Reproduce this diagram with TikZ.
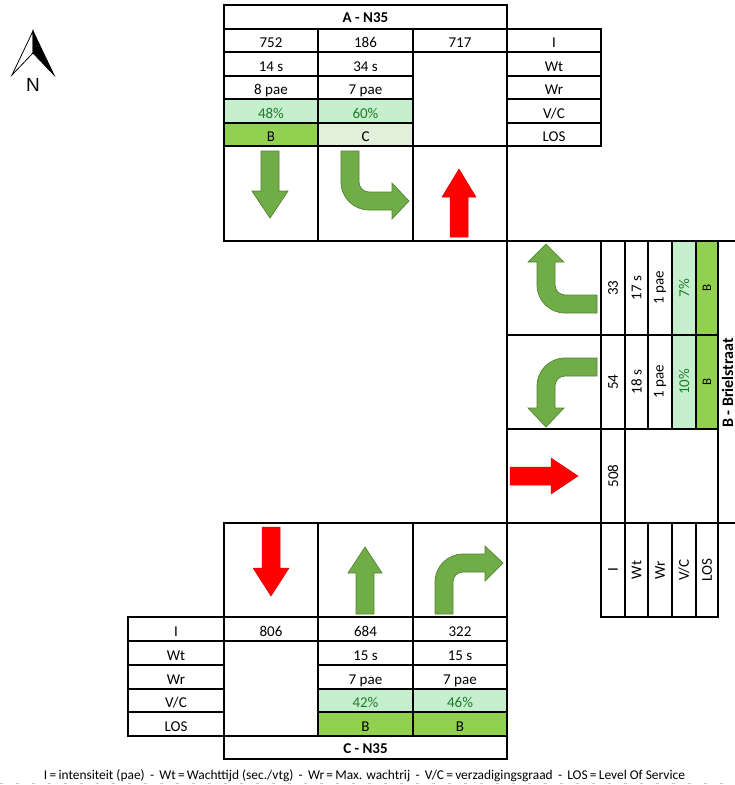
\documentclass[tikz,border=0pt]{standalone}
\usepackage{fontspec}
\setmainfont{Carlito}
\newfontfamily\arialf{Liberation Sans}
\usepackage{graphicx}
\definecolor{lgreen}{HTML}{C6EFCE}
\definecolor{dgreen}{HTML}{92D050}
\definecolor{pgreen}{HTML}{E2EFDA}
\definecolor{gtext}{HTML}{1E7B28}
\definecolor{arrowg}{HTML}{70AD47}
\definecolor{arrowgb}{HTML}{548235}
\newcommand\tcell[7]{\node[#6,minimum width={(#4-#2)*1pt},minimum height={(#5-#3)*1pt}] (#1) at ({(#2+#4)/2},{(#3+#5)/2}) {#7};}
\newcommand\rot[1]{\rotatebox{90}{#1}}
\begin{document}
\begin{tikzpicture}[x=1pt,y=-1pt,
  cellb/.style={draw=black,line width=1.8pt,inner sep=0pt,outer sep=0pt,font=\fontsize{15}{17}\selectfont},
  hcell/.style={cellb,text height=14.5pt,text depth=0pt},
  hdr/.style={hcell,font=\bfseries\fontsize{15}{17}\selectfont,text height=11.5pt},
  lg/.style={fill=lgreen,text=gtext},
  dg/.style={fill=dgreen},
  pg/.style={fill=pgreen},
  garrow/.style={fill=arrowg,draw=arrowgb,line width=0.7pt},
  rarrow/.style={fill=red,draw=red!85!black,line width=0.5pt}]
\useasboundingbox (0,0) rectangle (735,785);
\clip (0,0) rectangle (735,785);

% north arrow
\draw[line width=0.8pt,fill=white,line join=miter] (33,31) -- (12,75) -- (33,53) -- cycle;
\draw[line width=0.8pt,fill=black,line join=miter] (33,31) -- (54,75) -- (33,53) -- cycle;
\node[font=\arialf\fontsize{19}{20}\selectfont,inner sep=0pt] (N) at (33,84.5) {N};

% top table (A - N35)
\tcell{hA}{224}{5}{507}{29}{hdr}{A - N35}
\tcell{a11}{224}{29}{318}{52}{hcell}{752}
\tcell{a12}{318}{29}{413}{52}{hcell}{186}
\tcell{a13}{413}{29}{507}{52}{hcell}{717}
\tcell{aL1}{507}{29}{601}{52}{hcell}{I}
\tcell{a21}{224}{52}{318}{76}{hcell}{14 s}
\tcell{a22}{318}{52}{413}{76}{hcell}{34 s}
\tcell{a23}{413}{52}{507}{146}{hcell}{}
\tcell{aL2}{507}{52}{601}{76}{hcell}{Wt}
\tcell{a31}{224}{76}{318}{99}{hcell}{8 pae}
\tcell{a32}{318}{76}{413}{99}{hcell}{7 pae}
\tcell{aL3}{507}{76}{601}{99}{hcell}{Wr}
\tcell{a41}{224}{99}{318}{123}{hcell,lg}{48\%}
\tcell{a42}{318}{99}{413}{123}{hcell,lg}{60\%}
\tcell{aL4}{507}{99}{601}{123}{hcell}{V/C}
\tcell{a51}{224}{123}{318}{146}{hcell,dg}{B}
\tcell{a52}{318}{123}{413}{146}{hcell,pg}{C}
\tcell{aL5}{507}{123}{601}{146}{hcell}{LOS}
\tcell{aA1}{224}{146}{318}{241}{cellb}{}
\tcell{aA2}{318}{146}{413}{241}{cellb}{}
\tcell{aA3}{413}{146}{507}{241}{cellb}{}

% right table (B - Brielstraat)
\tcell{bA1}{507}{241}{601}{335}{cellb}{}
\tcell{b11}{601}{241}{625}{335}{cellb}{\rot{33}}
\tcell{b12}{625}{241}{648}{335}{cellb}{\rot{17 s}}
\tcell{b13}{648}{241}{672}{335}{cellb}{\rot{1 pae}}
\tcell{b14}{672}{241}{696}{335}{cellb,lg}{\rot{7\%}}
\tcell{b15}{696}{241}{718}{335}{cellb,dg}{\rot{\fontsize{13}{14}\selectfont B}}
\tcell{bA2}{507}{335}{601}{429}{cellb}{}
\tcell{b21}{601}{335}{625}{429}{cellb}{\rot{54}}
\tcell{b22}{625}{335}{648}{429}{cellb}{\rot{18 s}}
\tcell{b23}{648}{335}{672}{429}{cellb}{\rot{1 pae}}
\tcell{b24}{672}{335}{696}{429}{cellb,lg}{\rot{10\%}}
\tcell{b25}{696}{335}{718}{429}{cellb,dg}{\rot{\fontsize{13}{14}\selectfont B}}
\tcell{bA3}{507}{429}{601}{523}{cellb}{}
\tcell{b31}{601}{429}{625}{523}{cellb}{\rot{508}}
\tcell{b3m}{625}{429}{718}{523}{cellb}{}
\tcell{bL1}{601}{523}{625}{617}{cellb}{\rot{I}}
\tcell{bL2}{625}{523}{648}{617}{cellb}{\rot{Wt}}
\tcell{bL3}{648}{523}{672}{617}{cellb}{\rot{Wr}}
\tcell{bL4}{672}{523}{696}{617}{cellb}{\rot{V/C}}
\tcell{bL5}{696}{523}{718}{617}{cellb}{\rot{LOS}}
\tcell{hB}{718}{241}{740}{523}{cellb}{}
\node[inner sep=0pt,anchor=center] (hBt) at (727.5,383) {\rot{\bfseries\fontsize{16}{17}\selectfont B - Brielstraat}};

% bottom table (C - N35)
\tcell{cA1}{224}{523}{318}{617}{cellb}{}
\tcell{cA2}{318}{523}{413}{617}{cellb}{}
\tcell{cA3}{413}{523}{507}{617}{cellb}{}
\tcell{cL1}{128}{617}{224}{641}{hcell}{I}
\tcell{c11}{224}{617}{318}{641}{hcell}{806}
\tcell{c12}{318}{617}{413}{641}{hcell}{684}
\tcell{c13}{413}{617}{507}{641}{hcell}{322}
\tcell{cL2}{128}{641}{224}{665}{hcell}{Wt}
\tcell{c2m}{224}{641}{318}{736}{hcell}{}
\tcell{c22}{318}{641}{413}{665}{hcell}{15 s}
\tcell{c23}{413}{641}{507}{665}{hcell}{15 s}
\tcell{cL3}{128}{665}{224}{689}{hcell}{Wr}
\tcell{c32}{318}{665}{413}{689}{hcell}{7 pae}
\tcell{c33}{413}{665}{507}{689}{hcell}{7 pae}
\tcell{cL4}{128}{689}{224}{712}{hcell}{V/C}
\tcell{c42}{318}{689}{413}{712}{hcell,lg}{42\%}
\tcell{c43}{413}{689}{507}{712}{hcell,lg}{46\%}
\tcell{cL5}{128}{712}{224}{736}{hcell}{LOS}
\tcell{c52}{318}{712}{413}{736}{hcell,dg}{B}
\tcell{c53}{413}{712}{507}{736}{hcell,dg}{B}
\tcell{hC}{224}{736}{507}{759}{hdr}{C - N35}

% arrows: top
\draw[garrow] (261,151) -- (279,151) -- (279,191) -- (288,191) -- (270,218) -- (252,191) -- (261,191) -- cycle;
\draw[garrow] (341,151) -- (341,182) arc[start angle=180,end angle=90,radius=28] -- (392,210) -- (392,219) -- (409,201) -- (392,183) -- (392,192) -- (369,192) arc[start angle=90,end angle=180,radius=10] -- (359,151) -- cycle;
\draw[rarrow] (450,237) -- (450,197) -- (442,197) -- (459,169) -- (476,197) -- (468,197) -- (468,237) -- cycle;
% arrows: right
\draw[garrow] (597,313) -- (565,313) arc[start angle=90,end angle=180,radius=28] -- (537,262) -- (528,262) -- (546,244) -- (564,262) -- (555,262) -- (555,285) arc[start angle=180,end angle=90,radius=10] -- (597,295) -- cycle;
\draw[garrow] (597,358) -- (565,358) arc[start angle=270,end angle=180,radius=28] -- (537,408) -- (528,408) -- (546,427) -- (564,408) -- (555,408) -- (555,386) arc[start angle=180,end angle=270,radius=10] -- (597,376) -- cycle;
\draw[rarrow] (510,467) -- (551,467) -- (551,458) -- (578,476) -- (551,494) -- (551,485) -- (510,485) -- cycle;
% arrows: bottom
\draw[rarrow] (262,527) -- (280,527) -- (280,568) -- (289,568) -- (271,596) -- (253,568) -- (262,568) -- cycle;
\draw[garrow] (356,614) -- (356,573) -- (348,573) -- (365,547) -- (382,573) -- (374,573) -- (374,614) -- cycle;
\draw[garrow] (435,614) -- (435,582) arc[start angle=180,end angle=270,radius=28] -- (485,554) -- (485,546) -- (503,563) -- (485,581) -- (485,572) -- (463,572) arc[start angle=270,end angle=180,radius=10] -- (453,614) -- cycle;

% footer
\node[anchor=base,inner sep=0pt] (legend) at (364.5,779.5) {\resizebox{641pt}{!}{\fontsize{11.5}{13}\selectfont I\,=\,intensiteit (pae) \,-\, Wt\,=\,Wachttijd (sec./vtg) \,-\, Wr\,=\,Max. wachtrij \,-\, V/C\,=\,verzadigingsgraad \,-\, LOS\,=\,Level Of Service}};
\draw[gray!45,line width=0.9pt,dash pattern=on 3pt off 13pt] (0,783.5) -- (735,783.5);
\end{tikzpicture}
\end{document}
